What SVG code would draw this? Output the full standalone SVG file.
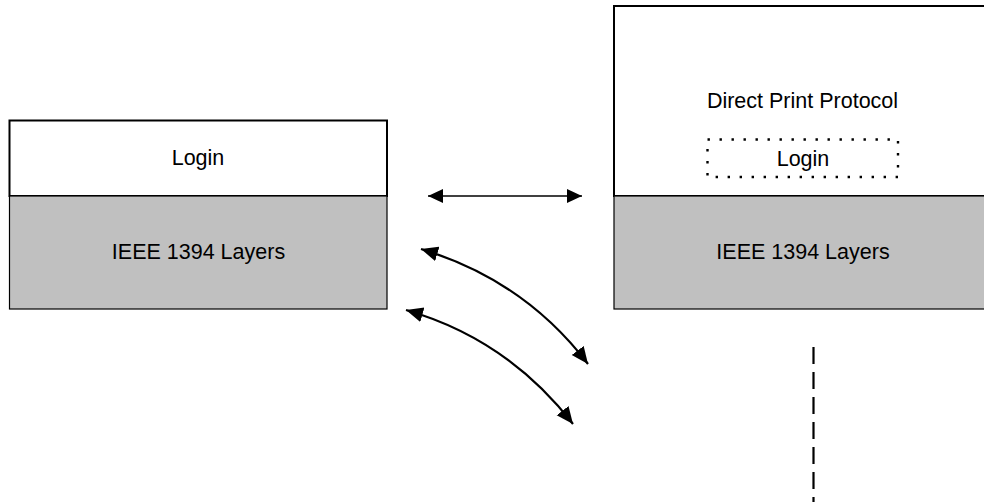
<svg xmlns="http://www.w3.org/2000/svg" width="984" height="502" viewBox="0 0 984 502">
<style>
.top{fill:#ffffff;stroke:#000;stroke-width:2}
.bot{fill:#c0c0c0;stroke:#000;stroke-width:1.2}
.lbl{font-family:"Liberation Sans",Arial,sans-serif;font-size:21.5px;fill:#000;text-anchor:middle}
.dot{fill:none;stroke:#000;stroke-width:2.4;stroke-dasharray:2.4 9.6}
.conn{fill:none;stroke:#000}
.h{marker-start:url(#ah);marker-end:url(#ah)}
.c{marker-start:url(#ahc);marker-end:url(#ahc)}
</style>
<defs>
<marker id="ah" markerUnits="userSpaceOnUse" markerWidth="16" markerHeight="15" refX="15" refY="7" orient="auto-start-reverse">
<path d="M0,0 L15,7 L0,14 z" fill="#000"/>
</marker>
<marker id="ahc" markerUnits="userSpaceOnUse" markerWidth="18" markerHeight="16" refX="17" refY="7.5" orient="auto-start-reverse">
<path d="M0,0 L17,7.5 L0,15 z" fill="#000"/>
</marker>
</defs>
<rect width="984" height="502" fill="#fff"/>
<g id="left-stack">
<rect class="top" x="9.5" y="120.5" width="377.5" height="75.5"/>
<rect class="bot" x="9.5" y="196" width="377.5" height="113"/>
<text class="lbl" x="198" y="165">Login</text>
<text class="lbl" x="198.5" y="259">IEEE 1394 Layers</text>
</g>
<g id="right-stack">
<rect class="top" x="614" y="6" width="390" height="190"/>
<rect class="bot" x="614" y="196" width="390" height="113"/>
<text class="lbl" x="802.5" y="108">Direct Print Protocol</text>
<rect class="dot" x="707.5" y="139.5" width="190.5" height="37.5"/>
<text class="lbl" x="803" y="166">Login</text>
<text class="lbl" x="803" y="259">IEEE 1394 Layers</text>
</g>
<g id="connectors">
<line class="conn h" x1="428" y1="196" x2="582" y2="196" stroke-width="1.4"/>
<path class="conn c" d="M421,249 Q524,280 588,364" stroke-width="2.2"/>
<path class="conn c" d="M406,310 Q507,339 573,424" stroke-width="2.2"/>
<line x1="813.5" y1="347" x2="813.5" y2="502" stroke="#000" stroke-width="2.2" stroke-dasharray="17 8"/>
</g>
</svg>
